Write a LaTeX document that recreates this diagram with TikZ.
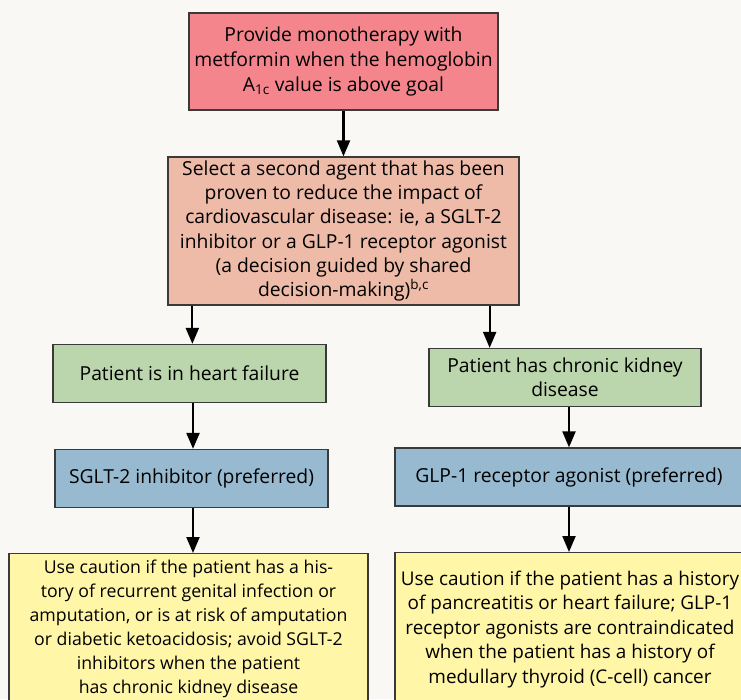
\documentclass[tikz,border=0pt]{standalone}
\usepackage{fontspec}
\setmainfont{Open Sans}
\usetikzlibrary{arrows.meta}
\definecolor{paper}{HTML}{F9F8F4}
\definecolor{startred}{HTML}{F4858C}
\definecolor{agentsalmon}{HTML}{EEBBA8}
\definecolor{condgreen}{HTML}{BBD5AC}
\definecolor{drugblue}{HTML}{97BAD0}
\definecolor{warnyellow}{HTML}{FFF6A8}
\definecolor{edge}{HTML}{3A3A3A}

\begin{document}
\begin{tikzpicture}[x=1pt, y=-1pt,
		box/.style={draw=edge, line width=1.3pt, align=center, inner sep=0pt,
			font=\fontsize{19.3}{24.3}\selectfont},
		startbox/.style={box, fill=startred, minimum width=309pt, minimum height=97pt},
		agentbox/.style={box, fill=agentsalmon, minimum width=351pt, minimum height=148pt},
		condbox/.style={box, fill=condgreen, minimum height=58pt},
		drugbox/.style={box, fill=drugblue, minimum height=58pt},
		warnbox/.style={box, fill=warnyellow, anchor=north, text depth=16pt},
		flow/.style={line width=2.2pt, -{Triangle[width=13pt,length=16pt]}}]
		%%%%% START %%%%%
		
		\fill[paper] (0, 0) rectangle (741, 699);
		\useasboundingbox (0, 0) rectangle (741, 699);
		\clip (0, 0) rectangle (741, 699);
		\coordinate (leftlane) at (193, 0);
		\coordinate (rightlane) at (569, 0);
		
		\node[startbox, font=\fontsize{19.3}{25}\selectfont] (metformin) at (343.5, 61.5) {Provide monotherapy with\\metformin when the hemoglobin\\A\smash{\textsubscript{1c}} value is above goal};
		
		\node[agentbox] (second) at (343.5, 231) {Select a second agent that has been\\proven to reduce the impact of\\cardiovascular disease: ie, a SGLT-2\\inhibitor or a GLP-1 receptor agonist\\(a decision guided by shared\\decision-making)\textsuperscript{b,c}};
		
		\node[condbox, minimum width=273pt] (heart) at (189.5, 373.5) {Patient is in heart failure};
		\node[condbox, minimum width=272pt] (kidney) at (565, 377.5) {Patient has chronic kidney\\disease};
		
		\node[drugbox, minimum width=273pt] (sglt) at (191.5, 478.5) {SGLT-2 inhibitor (preferred)};
		\node[drugbox, minimum width=348pt] (glp) at (569, 477) {GLP-1 receptor agonist (preferred)};
		
		\node[warnbox, minimum width=359pt, inner ysep=6pt, font=\fontsize{17.7}{24}\selectfont] (sgltwarn) at (188.5, 553) {Use caution if the patient has a his-\\tory of recurrent genital infection or\\amputation, or is at risk of amputation\\or diabetic ketoacidosis; avoid SGLT-2\\inhibitors when the patient\\has chronic kidney disease};
		\node[warnbox, minimum width=350pt, inner ysep=18pt, font=\fontsize{18.9}{24.5}\selectfont] (glpwarn) at (570, 552) {Use caution if the patient has a history\\of pancreatitis or heart failure; GLP-1\\receptor agonists are contraindicated\\when the patient has a history of\\medullary thyroid (C-cell) cancer};
		
		\draw[flow] (metformin) -- (second);
		\draw[flow] ([xshift=25pt]second.south west) -- ([xshift=25pt]second.south west |- heart.north);
		\draw[flow] ([xshift=-30pt]second.south east) -- ([xshift=-30pt]second.south east |- kidney.north);
		
		\draw[flow] (heart.south -| leftlane) -- (sglt.north -| leftlane);
		\draw[flow] (kidney.south -| rightlane) -- (glp.north -| rightlane);
		
		\draw[flow] (sglt.south -| leftlane) -- (sgltwarn.north -| leftlane);
		\draw[flow] (glp.south -| rightlane) -- (glpwarn.north -| rightlane);
		
		%%%%% END %%%%%
	\end{tikzpicture}
\end{document}
